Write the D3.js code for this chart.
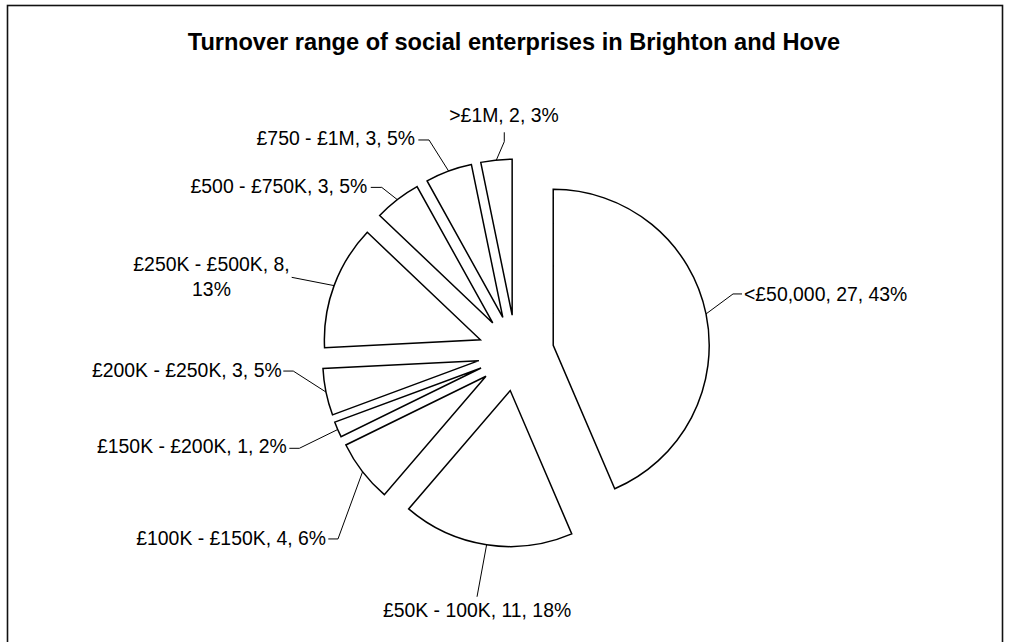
<!DOCTYPE html>
<html>
<head>
<meta charset="utf-8">
<script src="https://cdn.jsdelivr.net/npm/d3@7"></script>
<style>
  html, body { margin: 0; padding: 0; background: #fff; }
  svg { display: block; }
  text { font-family: Arial, "Liberation Sans", sans-serif; fill: #000; }
</style>
</head>
<body>
<svg id="chart" width="1009" height="642"></svg>
<script>
// Turnover bands and number of enterprises in each
const categories = ["<£50,000", "£50K - 100K", "£100K - £150K", "£150K - £200K",
  "£200K - £250K", "£250K - £500K", "£500 - £750K", "£750 - £1M", ">£1M"];
const counts = [27, 11, 4, 1, 3, 8, 3, 3, 2];
const percents = [43, 18, 6, 2, 5, 13, 5, 5, 3];

const title = "Turnover range of social enterprises in Brighton and Hove";

// Pie geometry
const cx = 516, cy = 353, radius = 156, explode = 38;

// Label layout, offsets measured from each slice's outer-arc midpoint:
// leader path points, text anchor point, text alignment
const labelLayout = [
  { path: [[27, -20], [36, -20]],   text: [38, -13],     anchor: "start" },
  { path: [[-9.6, 52]],             text: [-9.6, 72.5],  anchor: "middle" },
  { path: [[-24.6, 67.2], [-34.3, 67.2]], text: [-36.6, 73.2], anchor: "end" },
  { path: [[-38.4, 18.8], [-48.4, 18.8]], text: [-51, 23.5],   anchor: "end" },
  { path: [[-32.7, -21], [-42.7, -21]],   text: [-44.3, -15.3], anchor: "end" },
  { path: [[-42.4, -8.3]],          text: [-122.6, -14.9], anchor: "middle", wrap: true },
  { path: [[-15.5, -12.2], [-26.5, -12.2]], text: [-29.9, -6.8], anchor: "end" },
  { path: [[-19.6, -31.1], [-30.3, -31.1]], text: [-33.6, -26.1], anchor: "end" },
  { path: [[7.9, -18.3], [7.9, -27.7]],     text: [7.6, -38.3],  anchor: "middle" }
];

const svg = d3.select("#chart");

// Outer frame (open at the bottom edge of the view)
svg.append("rect")
  .attr("x", 7.5).attr("y", 5.5)
  .attr("width", 995).attr("height", 700)
  .attr("fill", "#fff")
  .attr("stroke", "#111").attr("stroke-width", 1.6);

svg.append("text")
  .attr("x", 514).attr("y", 49.5)
  .attr("text-anchor", "middle")
  .attr("font-weight", "bold")
  .attr("font-size", "23.6px")
  .text(title);

const pie = d3.pie().sort(null).value(d => d)
  .startAngle(0).endAngle(2 * Math.PI);
const arcs = pie(counts);

const arcGen = d3.arc().innerRadius(0).outerRadius(radius);

const g = svg.append("g").attr("transform", `translate(${cx},${cy})`);

function dirOf(a) {
  const mid = (a.startAngle + a.endAngle) / 2;
  return [Math.sin(mid), -Math.cos(mid)];
}

// Exploded slices
g.selectAll("path.slice")
  .data(arcs)
  .join("path")
  .attr("class", "slice")
  .attr("transform", d => {
    const [ux, uy] = dirOf(d);
    return `translate(${ux * explode},${uy * explode})`;
  })
  .attr("d", arcGen)
  .attr("fill", "#fff")
  .attr("stroke", "#000")
  .attr("stroke-width", 1.5)
  .attr("stroke-linejoin", "miter");

// Leader lines and labels
const line = d3.line();
arcs.forEach((d, i) => {
  const [ux, uy] = dirOf(d);
  const ax = ux * (explode + radius), ay = uy * (explode + radius);
  const lay = labelLayout[i];
  const pts = [[ax, ay]].concat(lay.path.map(p => [ax + p[0], ay + p[1]]));
  g.append("path")
    .attr("d", line(pts))
    .attr("fill", "none")
    .attr("stroke", "#000")
    .attr("stroke-width", 1);

  const label = `${categories[i]}, ${counts[i]}, ${percents[i]}%`;
  const t = g.append("text")
    .attr("x", ax + lay.text[0])
    .attr("y", ay + lay.text[1])
    .attr("text-anchor", lay.anchor)
    .attr("font-size", "19.4px");
  if (lay.wrap) {
    const cut = label.lastIndexOf(" ");
    t.append("tspan").attr("x", ax + lay.text[0]).text(label.slice(0, cut));
    t.append("tspan").attr("x", ax + lay.text[0]).attr("dy", 25.3).text(label.slice(cut + 1));
  } else {
    t.text(label);
  }
});
</script>
</body>
</html>
